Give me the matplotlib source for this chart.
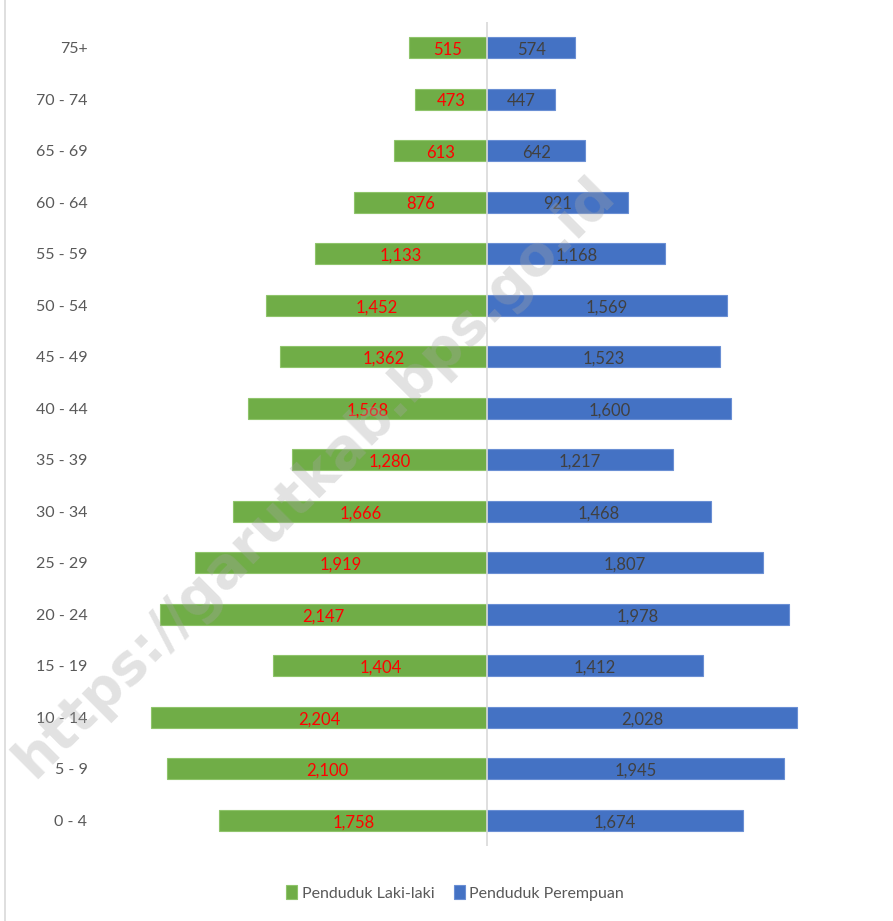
import matplotlib.pyplot as plt
import numpy as np

# kelompok umur, dari bawah ke atas
umur = ['0 - 4', '5 - 9', '10 - 14', '15 - 19', '20 - 24', '25 - 29', '30 - 34',
        '35 - 39', '40 - 44', '45 - 49', '50 - 54', '55 - 59', '60 - 64',
        '65 - 69', '70 - 74', '75+']
laki = [1758, 2100, 2204, 1404, 2147, 1919, 1666, 1280, 1568, 1362, 1452,
        1133, 876, 613, 473, 515]
perempuan = [1674, 1945, 2028, 1412, 1978, 1807, 1468, 1217, 1600, 1523,
             1569, 1168, 921, 642, 447, 574]

plt.rcParams['font.family'] = ['Lato', 'DejaVu Sans']

W, H = 893, 921
fig = plt.figure(figsize=(W / 100, H / 100), dpi=100)
ax = fig.add_axes([100 / W, 1 - 846 / H, 770 / W, 824 / H])

y = np.arange(len(umur))
hijau = '#70AD47'
biru = '#4472C4'
ax.barh(y, [-v for v in laki], height=0.41, color=hijau, edgecolor='#8fc46b',
        linewidth=0.8, label='Penduduk Laki-laki', zorder=2)
ax.barh(y, perempuan, height=0.41, color=biru, edgecolor='#6a8fd4',
        linewidth=0.8, label='Penduduk Perempuan', zorder=2)

for i in range(len(umur)):
    ax.text(-laki[i] / 2, y[i] - 0.04, f'{laki[i]:,}', color='#ff0000',
            ha='center', va='center', fontsize=12, zorder=4)
    ax.text(perempuan[i] / 2, y[i] - 0.04, f'{perempuan[i]:,}', color='#404040',
            ha='center', va='center', fontsize=12, zorder=4)

ax.set_xlim(-2540, 2510)
ax.set_ylim(-0.5, len(umur) - 0.5)
ax.set_yticks(y)
ax.set_yticklabels(umur, fontsize=11.5, color='#595959')
ax.tick_params(axis='y', length=0, pad=9)
ax.set_xticks([])
for s in ax.spines.values():
    s.set_visible(False)
ax.axvline(0, color='#d9d9d9', linewidth=1.2, zorder=3)

# watermark
fig.text(315 / W, 1 - 477 / H, 'https://garutkab.bps.go.id', rotation=45,
         ha='center', va='center', fontsize=40, fontweight='bold',
         color='#a6a6a6', alpha=0.32, family='DejaVu Sans', zorder=10)

# garis tepi kiri
fig.add_artist(plt.Line2D([5 / W, 5 / W], [0, 1], color='#d9d9d9',
                          linewidth=1.2, transform=fig.transFigure))

leg = fig.legend(loc='center', bbox_to_anchor=(455 / W, 1 - 893 / H), ncol=2,
                 frameon=False, fontsize=11.5, handlelength=0.7,
                 handleheight=0.9, handletextpad=0.3, columnspacing=1.2)
for t in leg.get_texts():
    t.set_color('#595959')

fig.savefig('out.png', dpi=100)
